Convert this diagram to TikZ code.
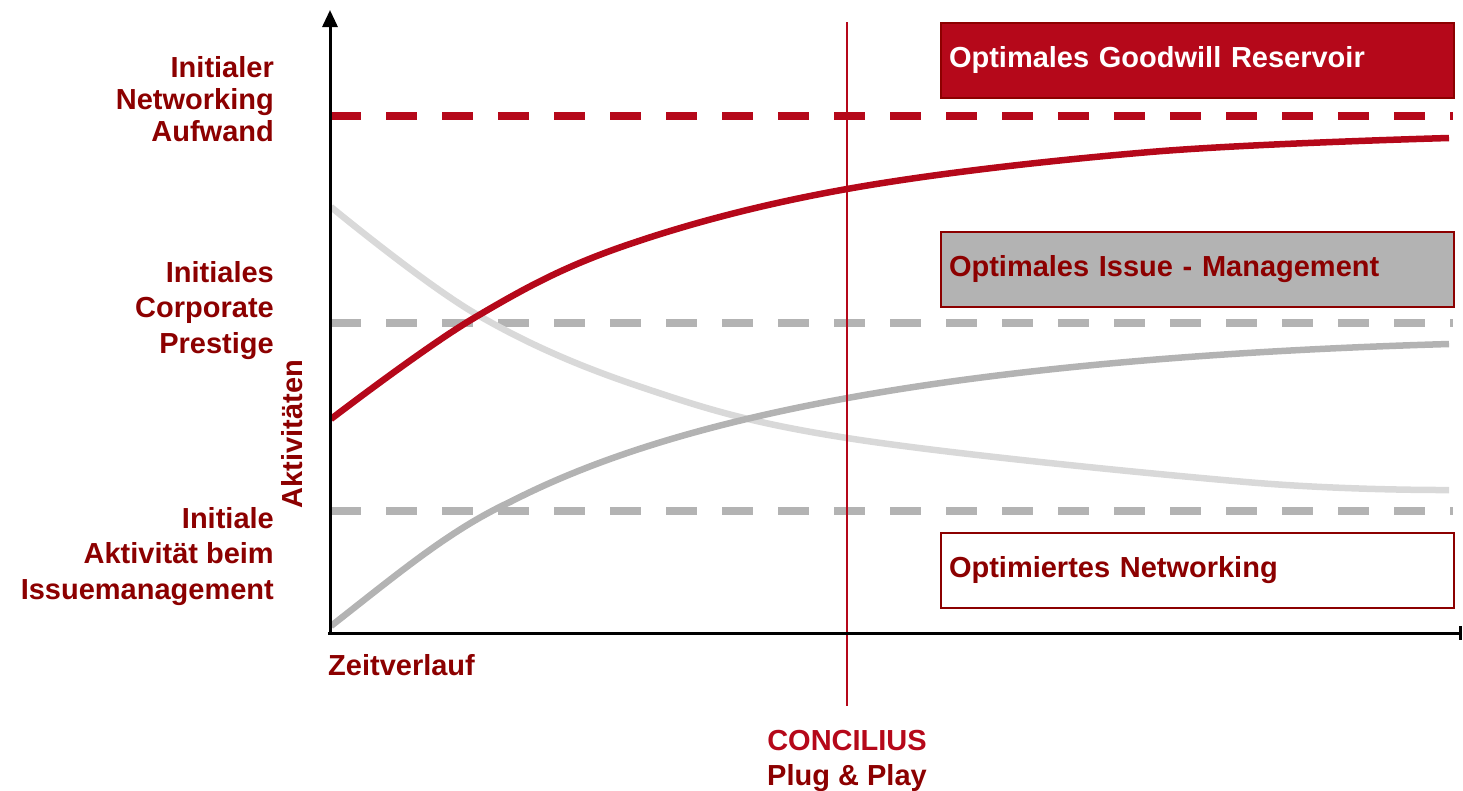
\documentclass[tikz,border=0pt]{standalone}
\usepackage{fontspec}
\setmainfont{Liberation Sans}
\usetikzlibrary{arrows.meta}
\definecolor{darkred}{RGB}{140,0,0}
\definecolor{curvered}{RGB}{181,8,26}
\definecolor{midgray}{RGB}{179,179,179}
\definecolor{palegray}{RGB}{217,217,217}

\begin{document}
\begin{tikzpicture}[x=1pt,y=-1pt]
	\tikzstyle{lbl} = [text=darkred, align=right, anchor=base east, inner sep=0]
	\tikzstyle{level} = [line width=7.5pt, dash pattern=on 31pt off 25pt]
	\tikzstyle{curve} = [line width=6.5pt, smooth, tension=0.6]
	\tikzstyle{box} = [draw=darkred, line width=2pt, minimum height=75pt, text width=497pt, inner xsep=8pt, align=left, anchor=west, font=\fontsize{29}{32}\selectfont\bfseries]
	\useasboundingbox (0,0) rectangle (1463,790);
	
	% axis points
	\coordinate (o) at (330,633);
	\coordinate (ytop) at (330,10);
	\coordinate (xo) at (328,633);
	\coordinate (xend) at (1462,633);
	\coordinate (ctop) at (847,22);
	\coordinate (cbot) at (847,706);
	
	% levels
	\draw [level, curvered] (330,116) -- (1453,116);
	\draw [level, midgray] (330,323) -- (1453,323);
	\draw [level, midgray] (330,511) -- (1453,511);
	
	% curves
	\draw [curve, palegray] plot coordinates {(331,207) (476,314) (641,387) (847,438) (1246,482) (1449,490)};
	\draw [curve, midgray] (331,626) .. controls (400,572) and (450,530) .. (510,502) .. controls (650,430) and (900,360) .. (1449,344);
	\draw [curve, curvered] plot coordinates {(331,419) (474,318) (624,246) (847,189) (1150,152) (1449,138)};
	
	\draw [curvered, line width=2pt] (ctop) -- (cbot);
	
	\draw [line width=3pt, -{Triangle[length=17pt,width=15pt]}] (o) -- (ytop);
	\draw [line width=3pt, -{Bar[width=14pt]}] (xo) -- (xend);
	
	% boxes
	\node [box, fill=curvered, text=white] (goodwill) at (940,60) {Optimales Goodwill Reservoir};
	\node [box, fill=midgray, text=darkred] (issue) at (940,269.5) {Optimales Issue - Management};
	\node [box, fill=white, text=darkred] (netw) at (940,570.5) {Optimiertes Networking};
	
	% labels
	\node [lbl, font=\fontsize{29}{32.3}\selectfont\bfseries] (aufwand) at (274,141.7) {Initialer\\Networking\\Aufwand};
	\node [lbl, font=\fontsize{29}{35.5}\selectfont\bfseries] (prestige) at (274,353) {Initiales\\Corporate\\Prestige};
	\node [lbl, font=\fontsize{29}{35.5}\selectfont\bfseries] (aktiv) at (274,599) {Initiale\\Aktivität beim\\Issuemanagement};
	\node [text=darkred, rotate=90, inner sep=0, font=\fontsize{29}{32}\selectfont\bfseries] (yl) at (292,434) {Aktivitäten};
	\node [text=darkred, anchor=base west, inner sep=0, font=\fontsize{29}{32}\selectfont\bfseries] (xl) at (328,675) {Zeitverlauf};
	\node [text=darkred, anchor=base, align=center, inner sep=0, font=\fontsize{29}{35}\selectfont\bfseries] (concil) at (847,785) {\textcolor{curvered}{CONCILIUS}\\Plug \& Play};
\end{tikzpicture}
\end{document}
